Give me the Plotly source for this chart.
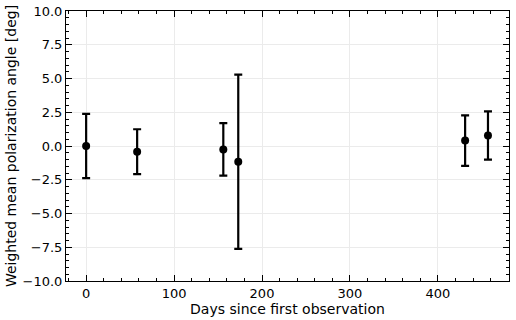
import plotly.graph_objects as go

days = [0, 58, 156, 173, 431, 457]
angle = [0.0, -0.42, -0.25, -1.17, 0.4, 0.78]
angle_err = [2.38, 1.66, 1.95, 6.45, 1.87, 1.79]

fig = go.Figure(
    go.Scatter(
        x=days,
        y=angle,
        mode='markers',
        marker=dict(color='black', size=8),
        error_y=dict(type='data', array=angle_err, color='black',
                     thickness=2.2, width=4),
        showlegend=False,
    )
)

axis_style = dict(
    showline=True, linecolor='black', linewidth=1, mirror='allticks',
    ticks='inside', ticklen=6, tickwidth=1, tickcolor='black',
    showgrid=True, gridcolor='#ebebeb', gridwidth=1,
    zeroline=False, automargin=False,
    tickfont=dict(size=13, color='black'),
)

fig.update_xaxes(
    range=[-22.9, 480.9], dtick=100,
    title=dict(text='Days since first observation', font=dict(size=14, color='black'),
               standoff=0),
    minor=dict(ticks='inside', dtick=20, ticklen=3, tickcolor='black', showgrid=False),
    **axis_style,
)
fig.update_yaxes(
    range=[-10, 10], dtick=2.5, tickformat='.1f',
    title=dict(text='Weighted mean polarization angle [deg]',
               font=dict(size=14, color='black'), standoff=2),
    minor=dict(ticks='inside', dtick=0.5, ticklen=3, tickcolor='black', showgrid=False),
    **axis_style,
)

fig.update_layout(
    width=516, height=320,
    margin=dict(l=66, r=7, t=11, b=39),
    plot_bgcolor='white', paper_bgcolor='white',
    font=dict(family='DejaVu Sans', color='black'),
)

# drop the page's default body margin so the figure sits at the top-left corner
fig.write_html('out.html', config={'displayModeBar': False},
               post_script="document.body.style.margin='0';")
